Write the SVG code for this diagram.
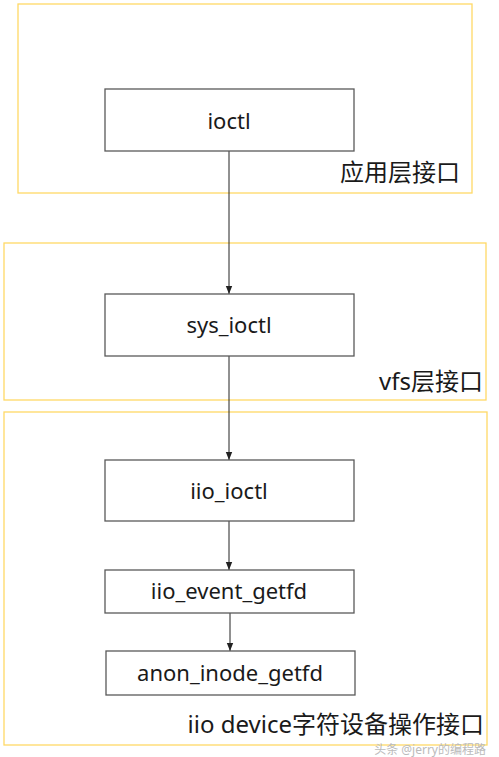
<svg xmlns="http://www.w3.org/2000/svg" width="499" height="757" viewBox="0 0 499 757">
<style>
.frame{fill:none;stroke:#FFD966;stroke-width:1.3}
.box{fill:#fff;stroke:#595959;stroke-width:1.3}
.t{font-family:"Noto Sans","Noto Sans CJK SC",sans-serif;font-size:22px;fill:#1a1a1a;text-anchor:middle}
.lbl{font-family:"Noto Sans","Noto Sans CJK SC",sans-serif;font-size:24px;fill:#1a1a1a;text-anchor:end}
.c{stroke:#222;stroke-width:1;fill:none;marker-end:url(#ah)}
</style>
<defs>
<marker id="ah" viewBox="0 0 10 10" refX="10" refY="5" markerWidth="8" markerHeight="8" markerUnits="userSpaceOnUse" orient="auto">
<path d="M0,1 L10,5 L0,9 z" fill="#222"/>
</marker>
</defs>
<rect width="499" height="757" fill="#fff"/>
<g id="layer-app">
<rect class="frame" x="18" y="4" width="454" height="189"/>
<text class="lbl" x="460" y="181">应用层接口</text>
</g>
<g id="layer-vfs">
<rect class="frame" x="4" y="243" width="482" height="157"/>
<text class="lbl" x="483" y="390">vfs层接口</text>
</g>
<g id="layer-iio">
<rect class="frame" x="4" y="412" width="483" height="333"/>
<text class="lbl" x="484" y="733">iio device字符设备操作接口</text>
</g>
<g id="connectors">
<line class="c" x1="229" y1="151" x2="229" y2="294"/>
<line class="c" x1="229" y1="356" x2="229" y2="460"/>
<line class="c" x1="229" y1="521" x2="229" y2="570"/>
<line class="c" x1="230" y1="613" x2="230" y2="651"/>
</g>
<g id="n-ioctl">
<rect class="box" x="105" y="89" width="249" height="62"/>
<text class="t" x="229" y="129">ioctl</text>
</g>
<g id="n-sys_ioctl">
<rect class="box" x="105" y="294" width="249" height="62"/>
<text class="t" x="229" y="333">sys_ioctl</text>
</g>
<g id="n-iio_ioctl">
<rect class="box" x="105" y="460" width="249" height="61"/>
<text class="t" x="229" y="499">iio_ioctl</text>
</g>
<g id="n-iio_event_getfd">
<rect class="box" x="105" y="570" width="249" height="43"/>
<text class="t" x="229" y="599">iio_event_getfd</text>
</g>
<g id="n-anon_inode_getfd">
<rect class="box" x="106" y="651" width="249" height="44"/>
<text class="t" x="230" y="681">anon_inode_getfd</text>
</g>
<text x="486" y="754" font-family="Noto Sans,Noto Sans CJK SC,sans-serif" font-size="12" fill="#bbb" text-anchor="end">头条 @jerry的编程路</text>
</svg>
